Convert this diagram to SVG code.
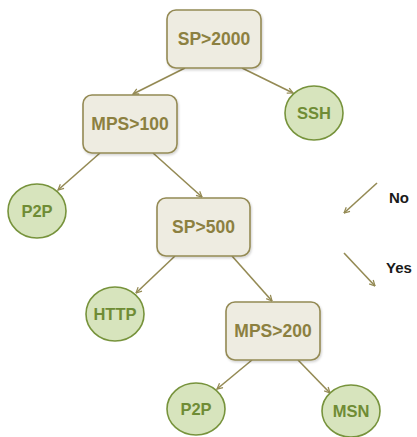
<svg xmlns="http://www.w3.org/2000/svg" width="417" height="437" viewBox="0 0 417 437">
<defs>
<style>
.box{fill:#eeece1;stroke:#948a54;stroke-width:1.6}
.leaf{fill:#d7e4bd;stroke:#77933c;stroke-width:1.6}
.bt{font-family:"Liberation Sans",Arial,sans-serif;font-weight:bold;font-size:17.5px;fill:#8c8040;text-anchor:middle}
.lt{font-family:"Liberation Sans",Arial,sans-serif;font-weight:bold;font-size:16.5px;fill:#6f8c35;text-anchor:middle}
.gt{font-family:"Liberation Sans",Arial,sans-serif;font-weight:bold;font-size:15px;fill:#1a1a1a}
.edge{stroke:#948a54;stroke-width:1.6;fill:none;marker-end:url(#ah)}
</style>
<marker id="ah" viewBox="0 0 10 10" refX="9" refY="5" markerWidth="7" markerHeight="7" orient="auto" markerUnits="userSpaceOnUse">
<path d="M1,1 L9,5 L1,9" fill="none" stroke="#948a54" stroke-width="1.8"/>
</marker>
<filter id="sh" x="-10%" y="-10%" width="130%" height="130%">
<feDropShadow dx="1" dy="1.5" stdDeviation="1.2" flood-color="#000" flood-opacity="0.18"/>
</filter>
</defs>
<g id="connectors">
<line class="edge" x1="185" y1="68" x2="133" y2="94"/>
<line class="edge" x1="242" y1="68" x2="293" y2="93"/>
<line class="edge" x1="100" y1="153" x2="58" y2="190"/>
<line class="edge" x1="153" y1="153" x2="202" y2="197"/>
<line class="edge" x1="175" y1="256" x2="136" y2="293"/>
<line class="edge" x1="232" y1="256" x2="272" y2="301"/>
<line class="edge" x1="252" y1="360" x2="217" y2="389"/>
<line class="edge" x1="298" y1="360" x2="330" y2="393"/>
</g>
<g id="legend">
<line class="edge" x1="377" y1="183" x2="344" y2="213"/>
<text class="gt" x="389" y="203">No</text>
<line class="edge" x1="344" y1="253" x2="375" y2="286"/>
<text class="gt" x="386" y="273">Yes</text>
</g>
<g id="n-sp2000">
<rect class="box" filter="url(#sh)" x="167" y="10" width="94" height="58" rx="9"/>
<text class="bt" x="214" y="45">SP&gt;2000</text>
</g>
<g id="n-ssh">
<ellipse class="leaf" cx="314" cy="113" rx="29" ry="27"/>
<text class="lt" x="314" y="119">SSH</text>
</g>
<g id="n-mps100">
<rect class="box" filter="url(#sh)" x="83" y="95" width="94" height="58" rx="9"/>
<text class="bt" x="130" y="130">MPS&gt;100</text>
</g>
<g id="n-p2p1">
<ellipse class="leaf" cx="37" cy="211" rx="29" ry="27"/>
<text class="lt" x="37" y="217">P2P</text>
</g>
<g id="n-sp500">
<rect class="box" filter="url(#sh)" x="157" y="198" width="93" height="58" rx="9"/>
<text class="bt" x="203.5" y="233">SP&gt;500</text>
</g>
<g id="n-http">
<ellipse class="leaf" cx="115" cy="314" rx="29" ry="27"/>
<text class="lt" x="115" y="320">HTTP</text>
</g>
<g id="n-mps200">
<rect class="box" filter="url(#sh)" x="226" y="302" width="94" height="58" rx="9"/>
<text class="bt" x="273" y="337">MPS&gt;200</text>
</g>
<g id="n-p2p2">
<ellipse class="leaf" cx="196" cy="409" rx="29" ry="26"/>
<text class="lt" x="196" y="415">P2P</text>
</g>
<g id="n-msn">
<ellipse class="leaf" cx="351" cy="411" rx="29" ry="26"/>
<text class="lt" x="351" y="417">MSN</text>
</g>
</svg>
